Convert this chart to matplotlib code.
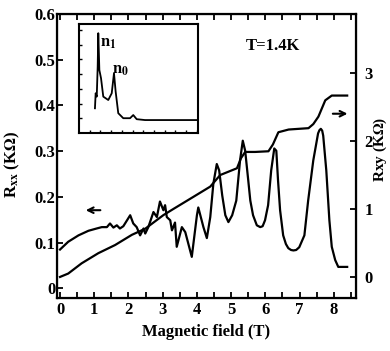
import matplotlib.pyplot as plt
import numpy as np

plt.rcParams['font.family'] = ['Liberation Serif', 'DejaVu Serif']
plt.rcParams['font.weight'] = 'bold'
plt.rcParams['mathtext.fontset'] = 'stix'

# longitudinal resistance Rxx (KOhm) vs field (T)
b_xx = [0.00, 0.24, 0.54, 0.83, 1.07, 1.22, 1.37, 1.46, 1.56, 1.66, 1.75, 1.85,
        2.05, 2.14, 2.24, 2.34, 2.44, 2.49, 2.58, 2.73, 2.83, 2.92, 3.02, 3.07,
        3.12, 3.22, 3.27, 3.36, 3.41, 3.56, 3.66, 3.85, 4.00, 4.04, 4.19, 4.29,
        4.39, 4.48, 4.58, 4.65, 4.74, 4.83, 4.92, 5.03, 5.15, 5.26, 5.34, 5.41,
        5.50, 5.56, 5.64, 5.75, 5.85, 5.92, 5.99, 6.08, 6.17, 6.26, 6.32, 6.37,
        6.43, 6.52, 6.60, 6.67, 6.75, 6.82, 6.90, 6.99, 7.14, 7.25, 7.40, 7.54,
        7.58, 7.62, 7.66, 7.69, 7.78, 7.87, 7.94, 8.04, 8.13, 8.39]
r_xx = [0.085, 0.102, 0.116, 0.126, 0.131, 0.134, 0.134, 0.142, 0.133, 0.138, 0.131, 0.136,
        0.160, 0.142, 0.134, 0.116, 0.131, 0.120, 0.134, 0.167, 0.156, 0.190, 0.171, 0.182,
        0.156, 0.149, 0.127, 0.144, 0.091, 0.134, 0.123, 0.069, 0.160, 0.177, 0.134, 0.110,
        0.156, 0.229, 0.272, 0.258, 0.203, 0.160, 0.145, 0.160, 0.192, 0.280, 0.323, 0.301,
        0.236, 0.192, 0.160, 0.138, 0.134, 0.136, 0.149, 0.182, 0.258, 0.306, 0.301, 0.236,
        0.171, 0.116, 0.097, 0.088, 0.084, 0.083, 0.084, 0.090, 0.116, 0.192, 0.280, 0.339,
        0.346, 0.349, 0.345, 0.334, 0.258, 0.149, 0.091, 0.062, 0.047, 0.047]

# Hall resistance Rxy (KOhm) vs field (T)
b_xy = [0.00, 0.24, 0.63, 1.12, 1.61, 2.10, 2.49, 3.02, 3.31, 3.90, 4.39, 4.68,
        5.17, 5.29, 5.41, 5.70, 6.09, 6.22, 6.38, 6.68, 7.26, 7.40, 7.55, 7.75,
        7.94, 8.39]
r_xy = [0.00, 0.05, 0.20, 0.35, 0.47, 0.62, 0.71, 0.91, 1.00, 1.18, 1.33, 1.50,
        1.60, 1.75, 1.84, 1.84, 1.85, 1.95, 2.13, 2.17, 2.19, 2.25, 2.36, 2.60,
        2.67, 2.67]

# inset spectrum (arbitrary units)
inset_x = [1.34, 1.40, 1.49, 1.57, 1.62, 1.71, 1.85, 2.04, 2.46, 2.75, 2.94, 3.08,
           3.30, 3.72, 4.29, 4.56, 4.85, 5.55, 10.0]
inset_y = [2.27, 3.65, 3.34, 6.09, 9.16, 5.78, 5.03, 3.34, 3.03, 3.65, 5.49, 3.80,
           1.82, 1.36, 1.36, 1.65, 1.27, 1.19, 1.19]

left_ticks = [0, 0.1, 0.2, 0.3, 0.4, 0.5, 0.6]
left_labels = ['0', '0.1', '0.2', '0.3', '0.4', '0.5', '0.6']
right_ticks = [0, 1, 2, 3]

fig = plt.figure(figsize=(3.9, 3.51), dpi=100)
ax = fig.add_axes([0.146, 0.151, 0.767, 0.809])
ax.plot(b_xx, r_xx, color='k', lw=1.6)
ax.set_xlim(-0.09, 8.65)
ax.set_ylim(-0.021, 0.598)
ax.set_xticks(range(0, 9))
ax.set_xticks(np.arange(0.5, 8.6, 1), minor=True)
ax.set_yticks(left_ticks)
ax.set_yticklabels(left_labels)
ax.tick_params(direction='in', top=True, which='both', length=4, width=1.3,
               labelsize=12, pad=3)
ax.tick_params(axis='y', pad=1)
for s in ax.spines.values():
    s.set_linewidth(1.6)
ax.set_xlabel('Magnetic field (T)', fontsize=12, fontweight='bold', labelpad=4)

ax2 = ax.twinx()
ax2.plot(b_xy, r_xy, color='k', lw=1.6)
ax2.set_ylim(-0.31, 3.87)
ax2.set_yticks(right_ticks)
ax2.tick_params(direction='in', length=4, width=1.3, labelsize=12, pad=6)

fig.text(12 / 390, 1 - 165 / 351, r'R$_{\mathbf{xx}}$ (K$\mathbf{\Omega}$)',
         rotation=90, ha='center', va='center', fontsize=12, fontweight='bold')
fig.text(380 / 390, 1 - 149 / 351, r'Rxy (K$\mathbf{\Omega}$)',
         rotation=90, ha='center', va='center', fontsize=11, fontweight='bold')

ax.text(6.23, 0.530, 'T=1.4K', ha='center', va='center', fontsize=12, fontweight='bold')
ax.annotate('', xy=(0.67, 0.171), xytext=(1.26, 0.171),
            arrowprops=dict(arrowstyle='->', lw=1.5, color='k'))
ax.annotate('', xy=(8.48, 0.382), xytext=(7.89, 0.382),
            arrowprops=dict(arrowstyle='->', lw=1.5, color='k'))

# inset
axi = fig.add_axes([0.2026, 0.621, 0.305, 0.3105])
axi.plot(inset_x, inset_y, color='k', lw=1.3)
axi.set_xlim(0, 10)
axi.set_ylim(0, 10)
axi.set_xticks(np.arange(0.9, 10, 0.9))
axi.set_yticks(np.arange(1.35, 10, 1.35))
axi.tick_params(direction='in', length=2.5, width=1, labelbottom=False, labelleft=False)
for s in axi.spines.values():
    s.set_linewidth(1.5)
axi.text(1.76, 8.26, r'$\mathbf{n_1}$', fontsize=12, va='center')
axi.text(2.77, 5.78, r'$\mathbf{n_0}$', fontsize=12, va='center')

fig.savefig('out.png', dpi=100)
